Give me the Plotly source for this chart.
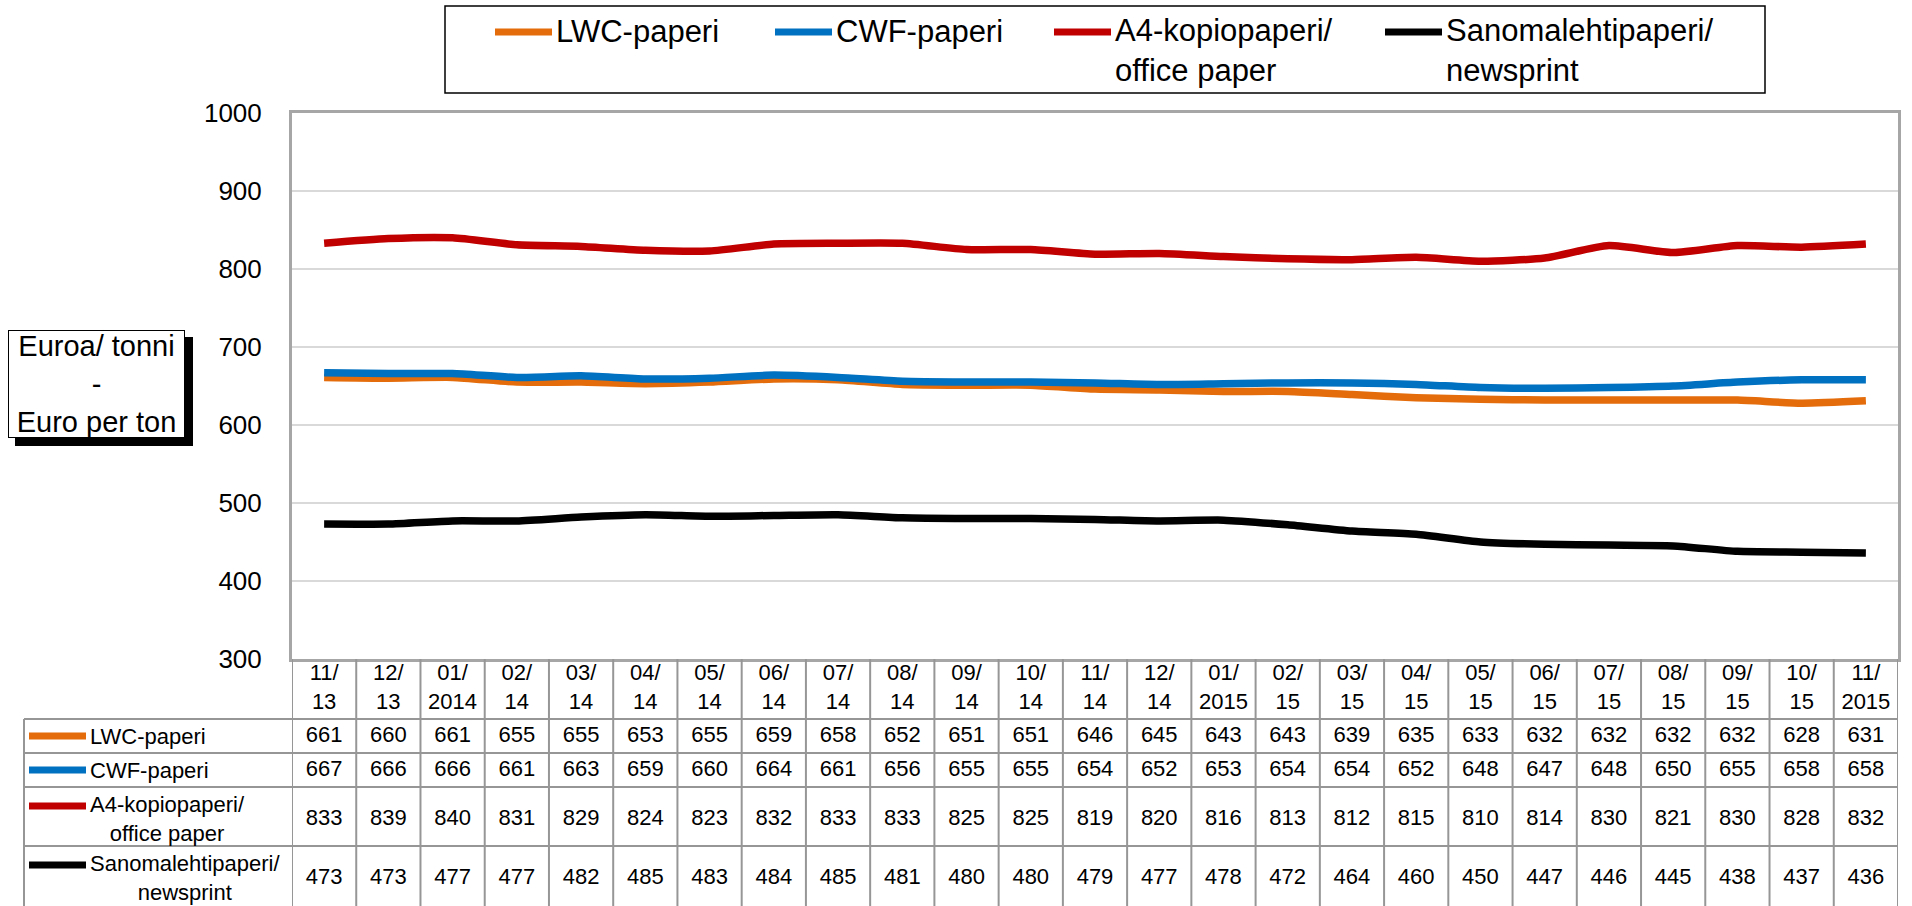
import plotly.graph_objects as go

# ---------------- data ----------------
months = ["11/13", "12/13", "01/2014", "02/14", "03/14", "04/14", "05/14", "06/14",
          "07/14", "08/14", "09/14", "10/14", "11/14", "12/14", "01/2015", "02/15",
          "03/15", "04/15", "05/15", "06/15", "07/15", "08/15", "09/15", "10/15", "11/2015"]
lwc = [661, 660, 661, 655, 655, 653, 655, 659, 658, 652, 651, 651, 646, 645, 643, 643,
       639, 635, 633, 632, 632, 632, 632, 628, 631]
cwf = [667, 666, 666, 661, 663, 659, 660, 664, 661, 656, 655, 655, 654, 652, 653, 654,
       654, 652, 648, 647, 648, 650, 655, 658, 658]
a4 = [833, 839, 840, 831, 829, 824, 823, 832, 833, 833, 825, 825, 819, 820, 816, 813,
      812, 815, 810, 814, 830, 821, 830, 828, 832]
news = [473, 473, 477, 477, 482, 485, 483, 484, 485, 481, 480, 480, 479, 477, 478, 472,
        464, 460, 450, 447, 446, 445, 438, 437, 436]
series_names = ["LWC-paperi", "CWF-paperi", "A4-kopiopaperi/<br>office paper",
                "Sanomalehtipaperi/<br>newsprint"]
y_ticks = [300, 400, 500, 600, 700, 800, 900, 1000]
y_title = "Euroa/ tonni<br>-<br>Euro per ton"

# ---------------- style / layout ----------------
W, H = 1912, 906
FONT = "Arial, Liberation Sans, sans-serif"
colors = ["#E46C0A", "#0070C0", "#C00000", "#000000"]
series = [lwc, cwf, a4, news]

def px(x):
    return x / W

def py(y):
    return 1 - y / H

PLOT_L, PLOT_R, PLOT_T, PLOT_B = 292, 1898, 113, 659
TABLE_L = 24
row_edges = [659, 719, 753, 787, 846]
header_center = 689
row_centers = [736, 770, 819, 878]
row_single = [True, True, False, False]
grid_col = "#969696"

fig = go.Figure()

for name, vals, col in zip(series_names, series, colors):
    fig.add_trace(go.Scatter(
        x=months, y=vals, mode="lines", name=name,
        line=dict(color=col, width=7.5, shape="spline", smoothing=0.6),
        showlegend=False, hoverinfo="x+y", xaxis="x", yaxis="y"))

# table header (category labels)
fig.add_trace(go.Scatter(
    x=months, y=[header_center] * len(months), mode="text",
    text=[m.replace("/", "/<br>") for m in months],
    textfont=dict(family=FONT, size=22, color="black"),
    textposition="middle center", showlegend=False, hoverinfo="skip",
    cliponaxis=False, xaxis="x", yaxis="y2"))

# table values
for vals, yc in zip(series, row_centers):
    fig.add_trace(go.Scatter(
        x=months, y=[yc] * len(months), mode="text",
        text=[str(v) for v in vals],
        textfont=dict(family=FONT, size=22, color="black"),
        textposition="middle center", showlegend=False, hoverinfo="skip",
        cliponaxis=False, xaxis="x", yaxis="y2"))

shapes = []
annotations = []
n = len(months)
# vertical table lines
for k in range(n + 1):
    shapes.append(dict(type="line", xref="x", yref="paper", x0=k - 0.5, x1=k - 0.5,
                       y0=py(PLOT_B), y1=py(H), line=dict(color=grid_col, width=2)))
shapes.append(dict(type="line", xref="paper", yref="paper", x0=px(TABLE_L), x1=px(TABLE_L),
                   y0=py(row_edges[1]), y1=py(H), line=dict(color=grid_col, width=2)))
for ye in row_edges[1:]:
    shapes.append(dict(type="line", xref="paper", yref="paper", x0=px(TABLE_L), x1=px(PLOT_R),
                       y0=py(ye), y1=py(ye), line=dict(color=grid_col, width=2)))

# table row labels with keys
for name, col, yc, single in zip(series_names, colors, row_centers, row_single):
    key_y = yc if single else yc - 13
    shapes.append(dict(type="line", xref="paper", yref="paper", x0=px(29), x1=px(86),
                       y0=py(key_y), y1=py(key_y), line=dict(color=col, width=7)))
    annotations.append(dict(xref="paper", yref="paper", x=px(88), y=py(yc),
                            xanchor="left", yanchor="middle", align="center",
                            text=name, showarrow=False,
                            font=dict(family=FONT, size=22, color="black")))

# legend box
shapes.append(dict(type="rect", xref="paper", yref="paper", x0=px(445), x1=px(1765),
                   y0=py(93), y1=py(6), line=dict(color="black", width=1.5),
                   fillcolor="white", layer="below"))
leg_key_x = [495, 775, 1054, 1385]
leg_single = [True, True, False, False]
for name, col, kx, single in zip(series_names, colors, leg_key_x, leg_single):
    shapes.append(dict(type="line", xref="paper", yref="paper", x0=px(kx), x1=px(kx + 57),
                       y0=py(32), y1=py(32), line=dict(color=col, width=7)))
    annotations.append(dict(xref="paper", yref="paper", x=px(kx + 59),
                            y=py(32 if single else 51),
                            xanchor="left", yanchor="middle", align="left",
                            text=name, showarrow=False,
                            font=dict(family=FONT, size=31, color="black")))

# y-axis title box with shadow
shapes.append(dict(type="rect", xref="paper", yref="paper", x0=px(15), x1=px(193),
                   y0=py(446), y1=py(337), line=dict(width=0), fillcolor="black"))
annotations.append(dict(xref="paper", yref="paper", x=px(8), y=py(330),
                        xanchor="left", yanchor="top", align="center",
                        text=y_title, showarrow=False, width=175, height=106,
                        borderpad=0, bordercolor="black", borderwidth=1, bgcolor="white",
                        font=dict(family=FONT, size=29, color="black")))

fig.update_layout(
    width=W, height=H, autosize=False,
    margin=dict(l=0, r=0, t=0, b=0, pad=0, autoexpand=False),
    paper_bgcolor="white", plot_bgcolor="white",
    font=dict(family=FONT, color="black"),
    showlegend=False,
    xaxis=dict(type="category", categoryarray=months, categoryorder="array",
               range=[-0.5, n - 0.5], domain=[px(PLOT_L), px(PLOT_R)],
               showticklabels=False, showgrid=False, zeroline=False, automargin=False,
               showline=True, mirror=True, linecolor="#a6a6a6", linewidth=3,
               ticks="", anchor="y", fixedrange=True),
    yaxis=dict(range=[300, 1000], tickvals=y_ticks, domain=[py(PLOT_B), py(PLOT_T)],
               showgrid=True, gridcolor="#d9d9d9", gridwidth=1.5, zeroline=False,
               showline=True, mirror=True, linecolor="#a6a6a6", linewidth=3,
               ticks="", ticklabelstandoff=22, automargin=False,
               tickfont=dict(family=FONT, size=26, color="black"),
               anchor="x", fixedrange=True),
    yaxis2=dict(range=[H, PLOT_B], domain=[0, py(PLOT_B)], visible=False,
                automargin=False, anchor="x", fixedrange=True),
    shapes=shapes,
    annotations=annotations,
)

fig.write_html("out.html", config={"displayModeBar": False},
               post_script="document.body.style.margin='0';document.body.style.overflow='hidden';")
